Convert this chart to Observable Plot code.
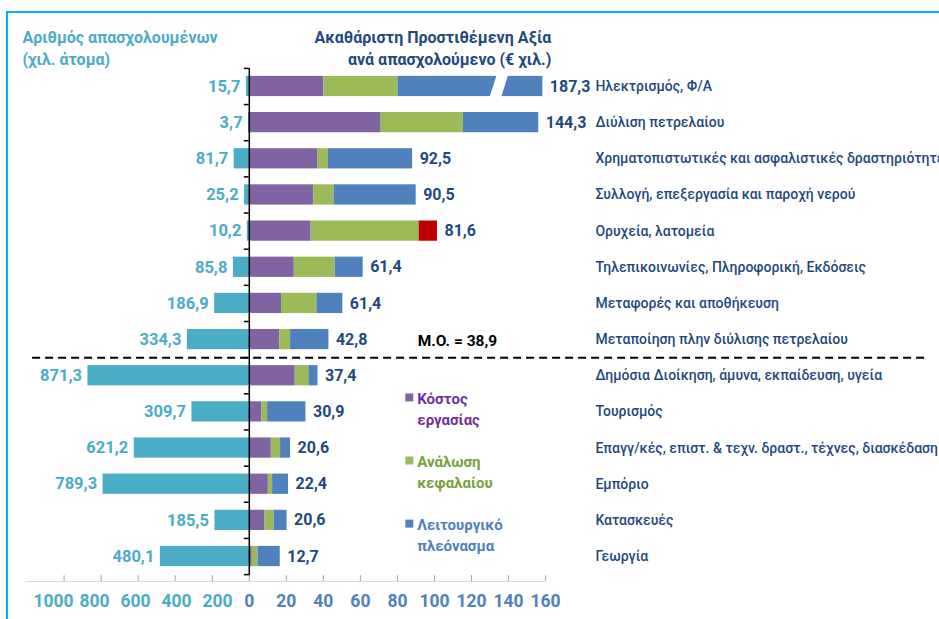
<!DOCTYPE html>
<html><head><meta charset="utf-8">
<script src="https://cdn.jsdelivr.net/npm/d3@7"></script>
<script src="https://cdn.jsdelivr.net/npm/@observablehq/plot@0.6"></script>
<style>
html,body{margin:0;padding:0;background:#fff;overflow:hidden;}
#wrap{position:relative;width:939px;height:619px;overflow:hidden;}
#border{position:absolute;left:6px;top:11px;width:2000px;height:2000px;border-top:2px solid #00b0f0;border-left:2px solid #00b0f0;}
#chart{position:absolute;left:0;top:0;}
</style></head><body>
<div id="wrap"><div id="border"></div><div id="chart"></div></div>
<script>
// ---- data ----
const categories = [
  "Ηλεκτρισμός, Φ/Α",
  "Διύλιση πετρελαίου",
  "Χρηματοπιστωτικές και ασφαλιστικές δραστηριότητες",
  "Συλλογή, επεξεργασία και παροχή νερού",
  "Ορυχεία, λατομεία",
  "Τηλεπικοινωνίες, Πληροφορική, Εκδόσεις",
  "Μεταφορές και αποθήκευση",
  "Μεταποίηση πλην διύλισης πετρελαίου",
  "Δημόσια Διοίκηση, άμυνα, εκπαίδευση, υγεία",
  "Τουρισμός",
  "Επαγγ/κές, επιστ. & τεχν. δραστ., τέχνες, διασκέδαση",
  "Εμπόριο",
  "Κατασκευές",
  "Γεωργία"
];
const employment = [15.7, 3.7, 81.7, 25.2, 10.2, 85.8, 186.9, 334.3, 871.3, 309.7, 621.2, 789.3, 185.5, 480.1];
const gvaTotals = [187.3, 144.3, 92.5, 90.5, 81.6, 61.4, 61.4, 42.8, 37.4, 30.9, 20.6, 22.4, 20.6, 12.7];
const labourCost = [40.3, 71.2, 37.1, 34.8, 33.4, 24.3, 17.4, 16.5, 24.8, 6.8, 11.9, 10.3, 8.5, 1.6];
const capitalConsumption = [40.0, 44.4, 5.6, 11.0, 58.3, 22.1, 19.1, 5.8, 7.4, 3.1, 5.0, 2.3, 4.9, 3.1];
const operatingSurplus = [107.0, 40.7, 45.5, 44.3, -9.9, 15.1, 14.0, 20.7, 4.9, 20.7, 5.4, 8.6, 7.0, 12.0];
const average = 38.9;
const leftTicks = [1000, 800, 600, 400, 200];
const rightTicks = [0, 20, 40, 60, 80, 100, 120, 140, 160];
const leftTitle = "Αριθμός απασχολουμένων\n(χιλ. άτομα)";
const rightTitle = "Ακαθάριστη Προστιθέμενη Αξία\nανά απασχολούμενο (€ χιλ.)";
const averageText = "Μ.Ο. = 38,9";
const legendKeys = ["labour", "capital", "surplus"];
const legendLabels = ["Κόστος\nεργασίας", "Ανάλωση\nκεφαλαίου", "Λειτουργικό\nπλεόνασμα"];

// ---- layout / styles ----
const axisBreakAt = 158.5;       // value where the over-long bar is cut
const breakGapAt = 134.7;        // where the break gap is drawn
const employmentScale = 10;      // employment (thousands) shown at 1/10 on the left
const H = 0.28;                  // half bar thickness, in rows
const colors = {labour: "#8064a2", capital: "#9bbb59", surplus: "#4f81bd", negative: "#c00000"};
const legendTextColors = ["#7030a0", "#77a03e", "#4f81bd"];
const teal = "#4bacc6", navy = "#1f497d";
const fmt = v => v.toFixed(1).replace(".", ",");

const n = categories.length;
const rows = d3.range(n);
const segments = [];
const barEnd = [];
rows.forEach(i => {
  let x = 0;
  [["labour", labourCost[i]], ["capital", capitalConsumption[i]], ["surplus", operatingSurplus[i]]].forEach(([k, v]) => {
    const x2 = x + Math.abs(v);
    segments.push({i, key: v < 0 ? "negative" : k, x1: Math.min(x, axisBreakAt), x2: Math.min(x2, axisBreakAt)});
    x = x2;
  });
  barEnd.push(Math.min(x, axisBreakAt));
});
const brokenRows = rows.filter(i => labourCost[i] + capitalConsumption[i] + Math.abs(operatingSurplus[i]) > axisBreakAt);
const sepRow = gvaTotals.findIndex(v => v < average) - 0.5;
const axisRow = n - 0.5 + 0.19;
const tickLabelRow = n - 0.5 + 0.75;
const legendTop = 8.6, legendStep = 1.745;

const plot = Plot.plot({
  width: 939, height: 619,
  marginLeft: 0, marginRight: 0, marginTop: 0, marginBottom: 0,
  x: {domain: [-100, 160], range: [63.6, 545.1], axis: null},
  y: {domain: [-0.5, n - 0.5], range: [67.9, 574.1], axis: null},
  style: {fontFamily: "Roboto, 'Noto Sans', sans-serif", background: "transparent", overflow: "visible"},
  marks: [
    // bottom axis
    Plot.ruleY([axisRow], {x1: -120.8, x2: 160, stroke: "#d9d9d9", strokeWidth: 1}),
    Plot.ruleX([...leftTicks.map(v => -v / employmentScale), ...rightTicks], {y1: n - 0.5 + 0.03, y2: axisRow, stroke: "#a6a6a6"}),
    // left labels are spread a little wider than their ticks, as in the original
    ...leftTicks.map(v => Plot.text([v], {x: d => -d / employmentScale, y: tickLabelRow, dx: 9.2 - 0.0198 * v, text: d => String(d), fill: teal, fontSize: 17.5, fontWeight: 700})),
    Plot.text(rightTicks, {x: d => d, y: tickLabelRow, text: d => String(d), fill: "#4f81bd", fontSize: 17.5, fontWeight: 700}),
    // employment bars
    Plot.rect(rows, {x1: 0, x2: i => -employment[i] / employmentScale, y1: i => i - H, y2: i => i + H, fill: teal}),
    // GVA stacked bars
    Plot.rect(segments, {x1: "x1", x2: "x2", y1: d => d.i - H, y2: d => d.i + H, fill: d => colors[d.key]}),
    // axis break
    ...brokenRows.map(i => Plot.line([[breakGapAt - 2.1, i + 0.34], [breakGapAt + 2.1, i - 0.34]], {x: d => d[0], y: d => d[1], stroke: "white", strokeWidth: 11})),
    // zero line with ticks
    Plot.ruleX([0], {y1: -0.5, y2: n - 0.5 + 0.03, stroke: "#000", strokeWidth: 1.5}),
    Plot.ruleY(d3.range(n + 1).map(k => k - 0.5), {x1: -2.7, x2: 0, stroke: "#000", strokeWidth: 1.5}),
    // average separator
    Plot.ruleY([sepRow], {x1: -117, x2: 366.8, stroke: "#000", strokeWidth: 2, strokeDasharray: "8,5"}),
    Plot.text([averageText], {x: 112.4, y: sepRow - 0.47, text: d => d, fill: "#000", fontSize: 15.5, fontWeight: 700}),
    // value labels
    Plot.text(rows, {x: i => -employment[i] / employmentScale, y: i => i, text: i => fmt(employment[i]), textAnchor: "end", dx: -6, fill: teal, fontSize: 16.5, fontWeight: 700}),
    Plot.text(rows, {x: i => barEnd[i], y: i => i, text: i => fmt(gvaTotals[i]), textAnchor: "start", dx: 7, fill: navy, fontSize: 16, fontWeight: 700}),
    // category labels
    Plot.text(rows, {x: 186.9, y: i => i, text: i => categories[i], textAnchor: "start", fill: navy, fontSize: 14, fontWeight: 500}),
    // titles
    Plot.text([leftTitle], {x: -122.5, y: -1.1, text: d => d, textAnchor: "start", lineHeight: 1.4, fill: teal, fontSize: 16, fontWeight: 700}),
    Plot.text([rightTitle], {x: 163.1, y: -1.1, text: d => d, textAnchor: "end", lineHeight: 1.4, fill: navy, fontSize: 16, fontWeight: 700}),
    // legend
    Plot.dot(legendKeys, {x: 86.4, y: (d, k) => legendTop + k * legendStep, symbol: "square", r: 4.5, fill: d => colors[d], stroke: null}),
    Plot.text(legendLabels, {x: 90.7, y: (d, k) => legendTop + k * legendStep + 0.29, text: d => d, textAnchor: "start", lineHeight: 1.4, fill: (d, k) => legendTextColors[k], fontSize: 15, fontWeight: 700})
  ]
});
document.getElementById("chart").appendChild(plot);
</script>
</body></html>
